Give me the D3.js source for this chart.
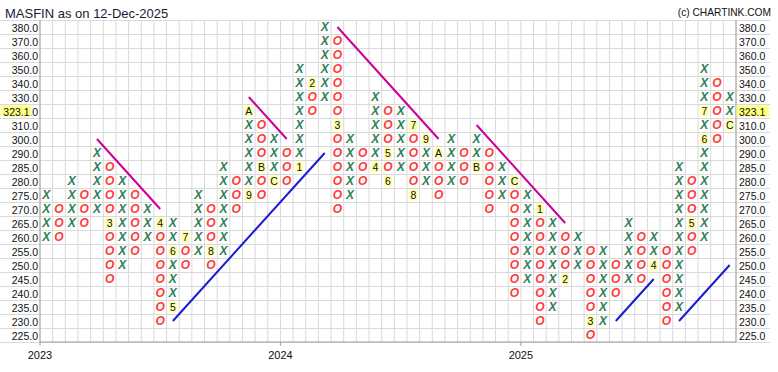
<!DOCTYPE html>
<html><head><meta charset="utf-8">
<script src="https://cdn.jsdelivr.net/npm/d3@7"></script>
<style>body{margin:0;background:#fff;} svg{display:block;font-family:"Liberation Sans",Arial,sans-serif;}</style>
</head><body><svg id="c" width="778" height="372"></svg>
<script>
// Price levels (row tick labels), top to bottom
const levels = [380,370,360,350,340,330,320,310,300,290,285,280,275,270,265,260,255,250,245,240,235,230,225];
// Column types and box ranges
const colType = ["X","O","X","O","X","O","X","O","X","O","X","O","X","O","X","O","X","O","X","O","X","O","X","O","X","O","X","O","X","O","X","O","X","O","X","O","X","O","X","O","X","O","X","O","X","O","X","O","X","O","X","O","X","O","X"];
const colLow  = [260,260,265,265,270,245,250,255,260,230,235,250,255,250,255,270,275,275,280,280,285,320,330,270,275,280,285,280,285,275,280,275,280,280,285,270,275,240,245,230,235,245,250,225,230,240,245,245,250,230,235,255,260,300,310];
const colHigh = [275,270,280,275,290,285,280,275,270,265,265,260,275,270,285,280,320,310,300,290,350,340,380,370,300,290,330,320,320,310,300,290,300,290,300,290,285,280,275,270,265,260,260,255,255,250,265,260,260,255,285,280,350,340,330];
// Month markers: [column, level, label]
const monthMarks = [[5,265,"3"],[9,265,"4"],[10,235,"5"],[10,255,"6"],[11,260,"7"],[13,255,"8"],[16,275,"9"],[16,320,"A"],[17,285,"B"],[18,280,"C"],[20,285,"1"],[21,340,"2"],[23,310,"3"],[26,285,"4"],[27,290,"5"],[27,280,"6"],[29,310,"7"],[29,275,"8"],[30,300,"9"],[31,290,"A"],[34,285,"B"],[37,280,"C"],[39,270,"1"],[41,245,"2"],[43,230,"3"],[48,250,"4"],[51,265,"5"],[52,300,"6"],[52,320,"7"],[54,310,"C"]];
// Year ticks (column where year begins)
const yearCols = [0,19,38];
const yearLabels = ["2023","2024","2025"];
// Trend lines [col1, level1, col2, level2]
const downTrends = [[4,300,9,270],[16,330,19,300],[23,380,31,300],[34,310,41,265]];
const upTrends = [[10,230,22,290],[45,230,48,245],[50,230,54,250]];
const lastPrice = 323.1, lastLevel = 320;
const title = "MASFIN as on 12-Dec-2025";
const credit = "(c) CHARTINK.COM";

const svg = d3.select("#c");
const L = 40, R = 736, T = 20, B = 342;
const x = d3.scaleBand().domain(d3.range(colType.length)).range([L, R]);
const y = d3.scaleBand().domain(levels).range([T, B]);
const bw = x.bandwidth(), bh = y.bandwidth();
const cx = c => x(c) + bw/2, cy = l => y(l) + bh/2;

// grid
const g = svg.append("g");
g.selectAll("line.h").data(d3.range(levels.length+1)).join("line")
  .attr("x1", 0).attr("x2", 770)
  .attr("y1", i => T + i*bh).attr("y2", i => T + i*bh)
  .attr("stroke", "#d9d9d9").attr("stroke-width", 1).attr("shape-rendering","crispEdges");
g.selectAll("line.v").data(d3.range(colType.length+1)).join("line")
  .attr("x1", i => L + i*bw).attr("x2", i => L + i*bw)
  .attr("y1", T).attr("y2", B)
  .attr("stroke", "#d9d9d9").attr("stroke-width", 1);
// axis lines
g.append("line").attr("x1",L).attr("x2",L).attr("y1",T).attr("y2",B).attr("stroke","#a0a0a0");
g.append("line").attr("x1",R).attr("x2",R).attr("y1",T).attr("y2",B).attr("stroke","#a0a0a0");
g.append("line").attr("x1",L).attr("x2",R).attr("y1",B).attr("y2",B).attr("stroke","#a0a0a0");

// axis labels
svg.append("g").selectAll("text").data(levels).join("text")
  .attr("x", 38).attr("y", d => cy(d) + 4.5).attr("text-anchor","end")
  .attr("font-size", 10.5).attr("fill","#111").text(d => d.toFixed(1));
svg.append("g").selectAll("text").data(levels).join("text")
  .attr("x", 739).attr("y", d => cy(d) + 4.5).attr("text-anchor","start")
  .attr("font-size", 10.5).attr("fill","#111").text(d => d.toFixed(1));

// last price highlights
[[1.5, 29.5, 3.3],[736.5, 32.5, 739]].forEach(([rx, rw, tx]) => {
  svg.append("rect").attr("x", rx).attr("y", cy(lastLevel)-5.5).attr("width", rw).attr("height", 11).attr("fill","#ffff80");
  svg.append("text").attr("x", tx).attr("y", cy(lastLevel)+4.5).attr("font-size",10.5).attr("fill","#111").text(lastPrice.toFixed(1));
});

// year ticks
const xg = svg.append("g");
yearCols.forEach((c,i) => {
  xg.append("line").attr("x1", x(c)).attr("x2", x(c)).attr("y1", B).attr("y2", B+4).attr("stroke","#a0a0a0");
  xg.append("text").attr("x", x(c)).attr("y", 359).attr("text-anchor","middle").attr("font-size",11).attr("fill","#111").text(yearLabels[i]);
});

// boxes
const markMap = new Map(monthMarks.map(m => [m[0]+"_"+m[1], m[2]]));
const boxes = [];
colType.forEach((t, c) => {
  levels.forEach(l => {
    if (l >= colLow[c] && l <= colHigh[c]) boxes.push({c, l, t, m: markMap.get(c+"_"+l)});
  });
});
const bg = svg.append("g");
boxes.filter(b => b.m).forEach(b => {
  bg.append("rect").attr("x", cx(b.c)-4).attr("y", cy(b.l)-5.5).attr("width", 8).attr("height", 11).attr("fill","#ffffa8");
  bg.append("text").attr("x", cx(b.c)).attr("y", cy(b.l)+4).attr("text-anchor","middle").attr("font-size",10.5).attr("fill","#111").text(b.m);
});
bg.selectAll("text.box").data(boxes.filter(b => !b.m)).join("text")
  .attr("x", b => cx(b.c)).attr("y", b => cy(b.l)+4.3).attr("text-anchor","middle")
  .attr("font-size", 12).attr("font-style","italic").attr("font-weight","bold")
  .attr("fill", b => b.t === "X" ? "#2e7d56" : "#ff3a3a").text(b => b.t);

// trend lines
const tl = svg.append("g");
downTrends.forEach(d => tl.append("line").attr("x1",cx(d[0])).attr("y1",cy(d[1])).attr("x2",cx(d[2])).attr("y2",cy(d[3])).attr("stroke","#cc0099").attr("stroke-width",2));
upTrends.forEach(d => tl.append("line").attr("x1",cx(d[0])).attr("y1",cy(d[1])).attr("x2",cx(d[2])).attr("y2",cy(d[3])).attr("stroke","#1a1ad6").attr("stroke-width",2));

// title
svg.append("text").attr("x",5).attr("y",17.5).attr("font-size",13).attr("fill","#1a1a33").text(title);
svg.append("text").attr("x",771).attr("y",16).attr("text-anchor","end").attr("font-size",10.2).attr("fill","#111").text(credit);
</script></body></html>
